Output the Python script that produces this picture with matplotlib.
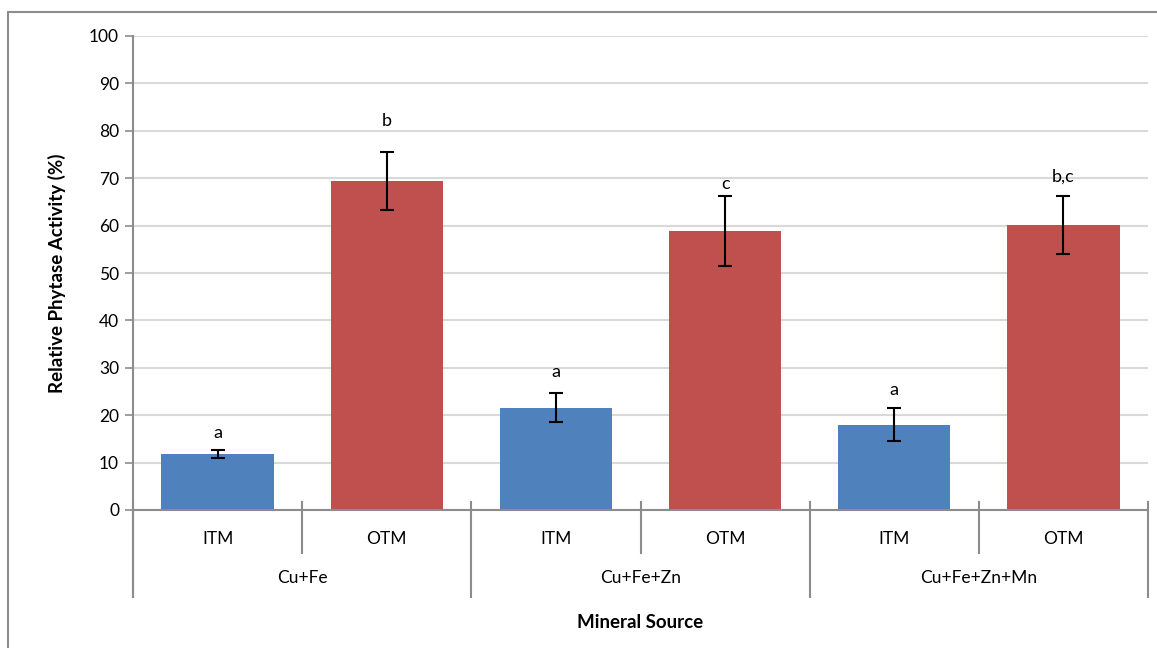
import matplotlib.pyplot as plt
from matplotlib.patches import Rectangle
import numpy as np

plt.rcParams['font.family'] = ['Lato', 'DejaVu Sans']

# mineral sources and trace mineral forms
groups = ['Cu+Fe', 'Cu+Fe+Zn', 'Cu+Fe+Zn+Mn']
forms = ['ITM', 'OTM', 'ITM', 'OTM', 'ITM', 'OTM']
activity = [11.8, 69.4, 21.6, 58.9, 18.0, 60.1]
sem = [0.8, 6.2, 3.1, 7.4, 3.5, 6.1]
letters = ['a', 'b', 'a', 'c', 'a', 'b,c']

blue = '#4F81BD'
red = '#C0504D'
axis_grey = '#8C8C8C'

W, H = 1157, 648
fig = plt.figure(figsize=(W / 100, H / 100), dpi=100)

# chart border
fig.patches.append(Rectangle((8 / W, -0.1), 1.2, 1 - 12 / H + 0.1, transform=fig.transFigure,
                             fill=False, edgecolor=axis_grey, linewidth=1.5))

x0, x1 = 133, 1148
y_top, y_bot = 36, 510
ax = fig.add_axes([x0 / W, 1 - y_bot / H, (x1 - x0) / W, (y_bot - y_top) / H])

x = np.arange(len(activity))
colors = [blue if f == 'ITM' else red for f in forms]
ax.bar(x, activity, width=0.665, color=colors, zorder=2)
ax.errorbar(x, activity, yerr=sem, fmt='none', ecolor='black', elinewidth=1.5,
            capsize=5, capthick=1.5, zorder=3)

# significance letters above the error bars
pads = [7, 16, 9, 3, 7, 8.5]
for xi, v, e, t, p in zip(x, activity, sem, letters, pads):
    ax.annotate(t, (xi, v + e), xytext=(0, p), textcoords='offset points',
                ha='center', va='bottom', fontsize=13)

ax.set_xlim(-0.5, len(activity) - 0.5)
ax.set_ylim(0, 100)
ax.set_yticks(np.arange(0, 101, 10))
ax.tick_params(axis='y', labelsize=12.5, length=6, width=1.2, color=axis_grey, pad=4)
ax.set_xticks([])
ax.grid(axis='y', color='#D9D9D9', linewidth=1.5, zorder=0)
ax.set_axisbelow(True)
for s in ['top', 'right']:
    ax.spines[s].set_visible(False)
for s in ['left', 'bottom']:
    ax.spines[s].set_color(axis_grey)
    ax.spines[s].set_linewidth(1.5)

# two-level category axis drawn below the plot
tr = ax.get_xaxis_transform()
def px(y):
    return (y_bot - y) / (y_bot - y_top)

n = len(activity)
for i in range(n + 1):
    xb = i - 0.5
    if i % 2 == 0:
        ax.plot([xb, xb], [px(502), px(597)], transform=tr, clip_on=False,
                color=axis_grey, lw=1.5)
    else:
        ax.plot([xb, xb], [px(502), px(553)], transform=tr, clip_on=False,
                color=axis_grey, lw=1.5)
ax.plot([-0.5, -0.5], [px(597), 0], transform=tr, clip_on=False, color=axis_grey, lw=1.5)

for xi, f in zip(x, forms):
    ax.text(xi, px(539), f, transform=tr, ha='center', va='center', fontsize=12.5)
for g, name in enumerate(groups):
    ax.text(2 * g + 0.5, px(578), name, transform=tr, ha='center', va='center', fontsize=12.5)

fig.text((x0 + x1) / 2 / W, 1 - 623 / H, 'Mineral Source', ha='center', va='center',
         fontsize=13.5, fontweight='bold')
fig.text(57 / W, 1 - 273 / H, 'Relative Phytase Activity (%)', ha='center', va='center',
         rotation=90, fontsize=13.5, fontweight='bold')

fig.savefig('out.png', dpi=100)
